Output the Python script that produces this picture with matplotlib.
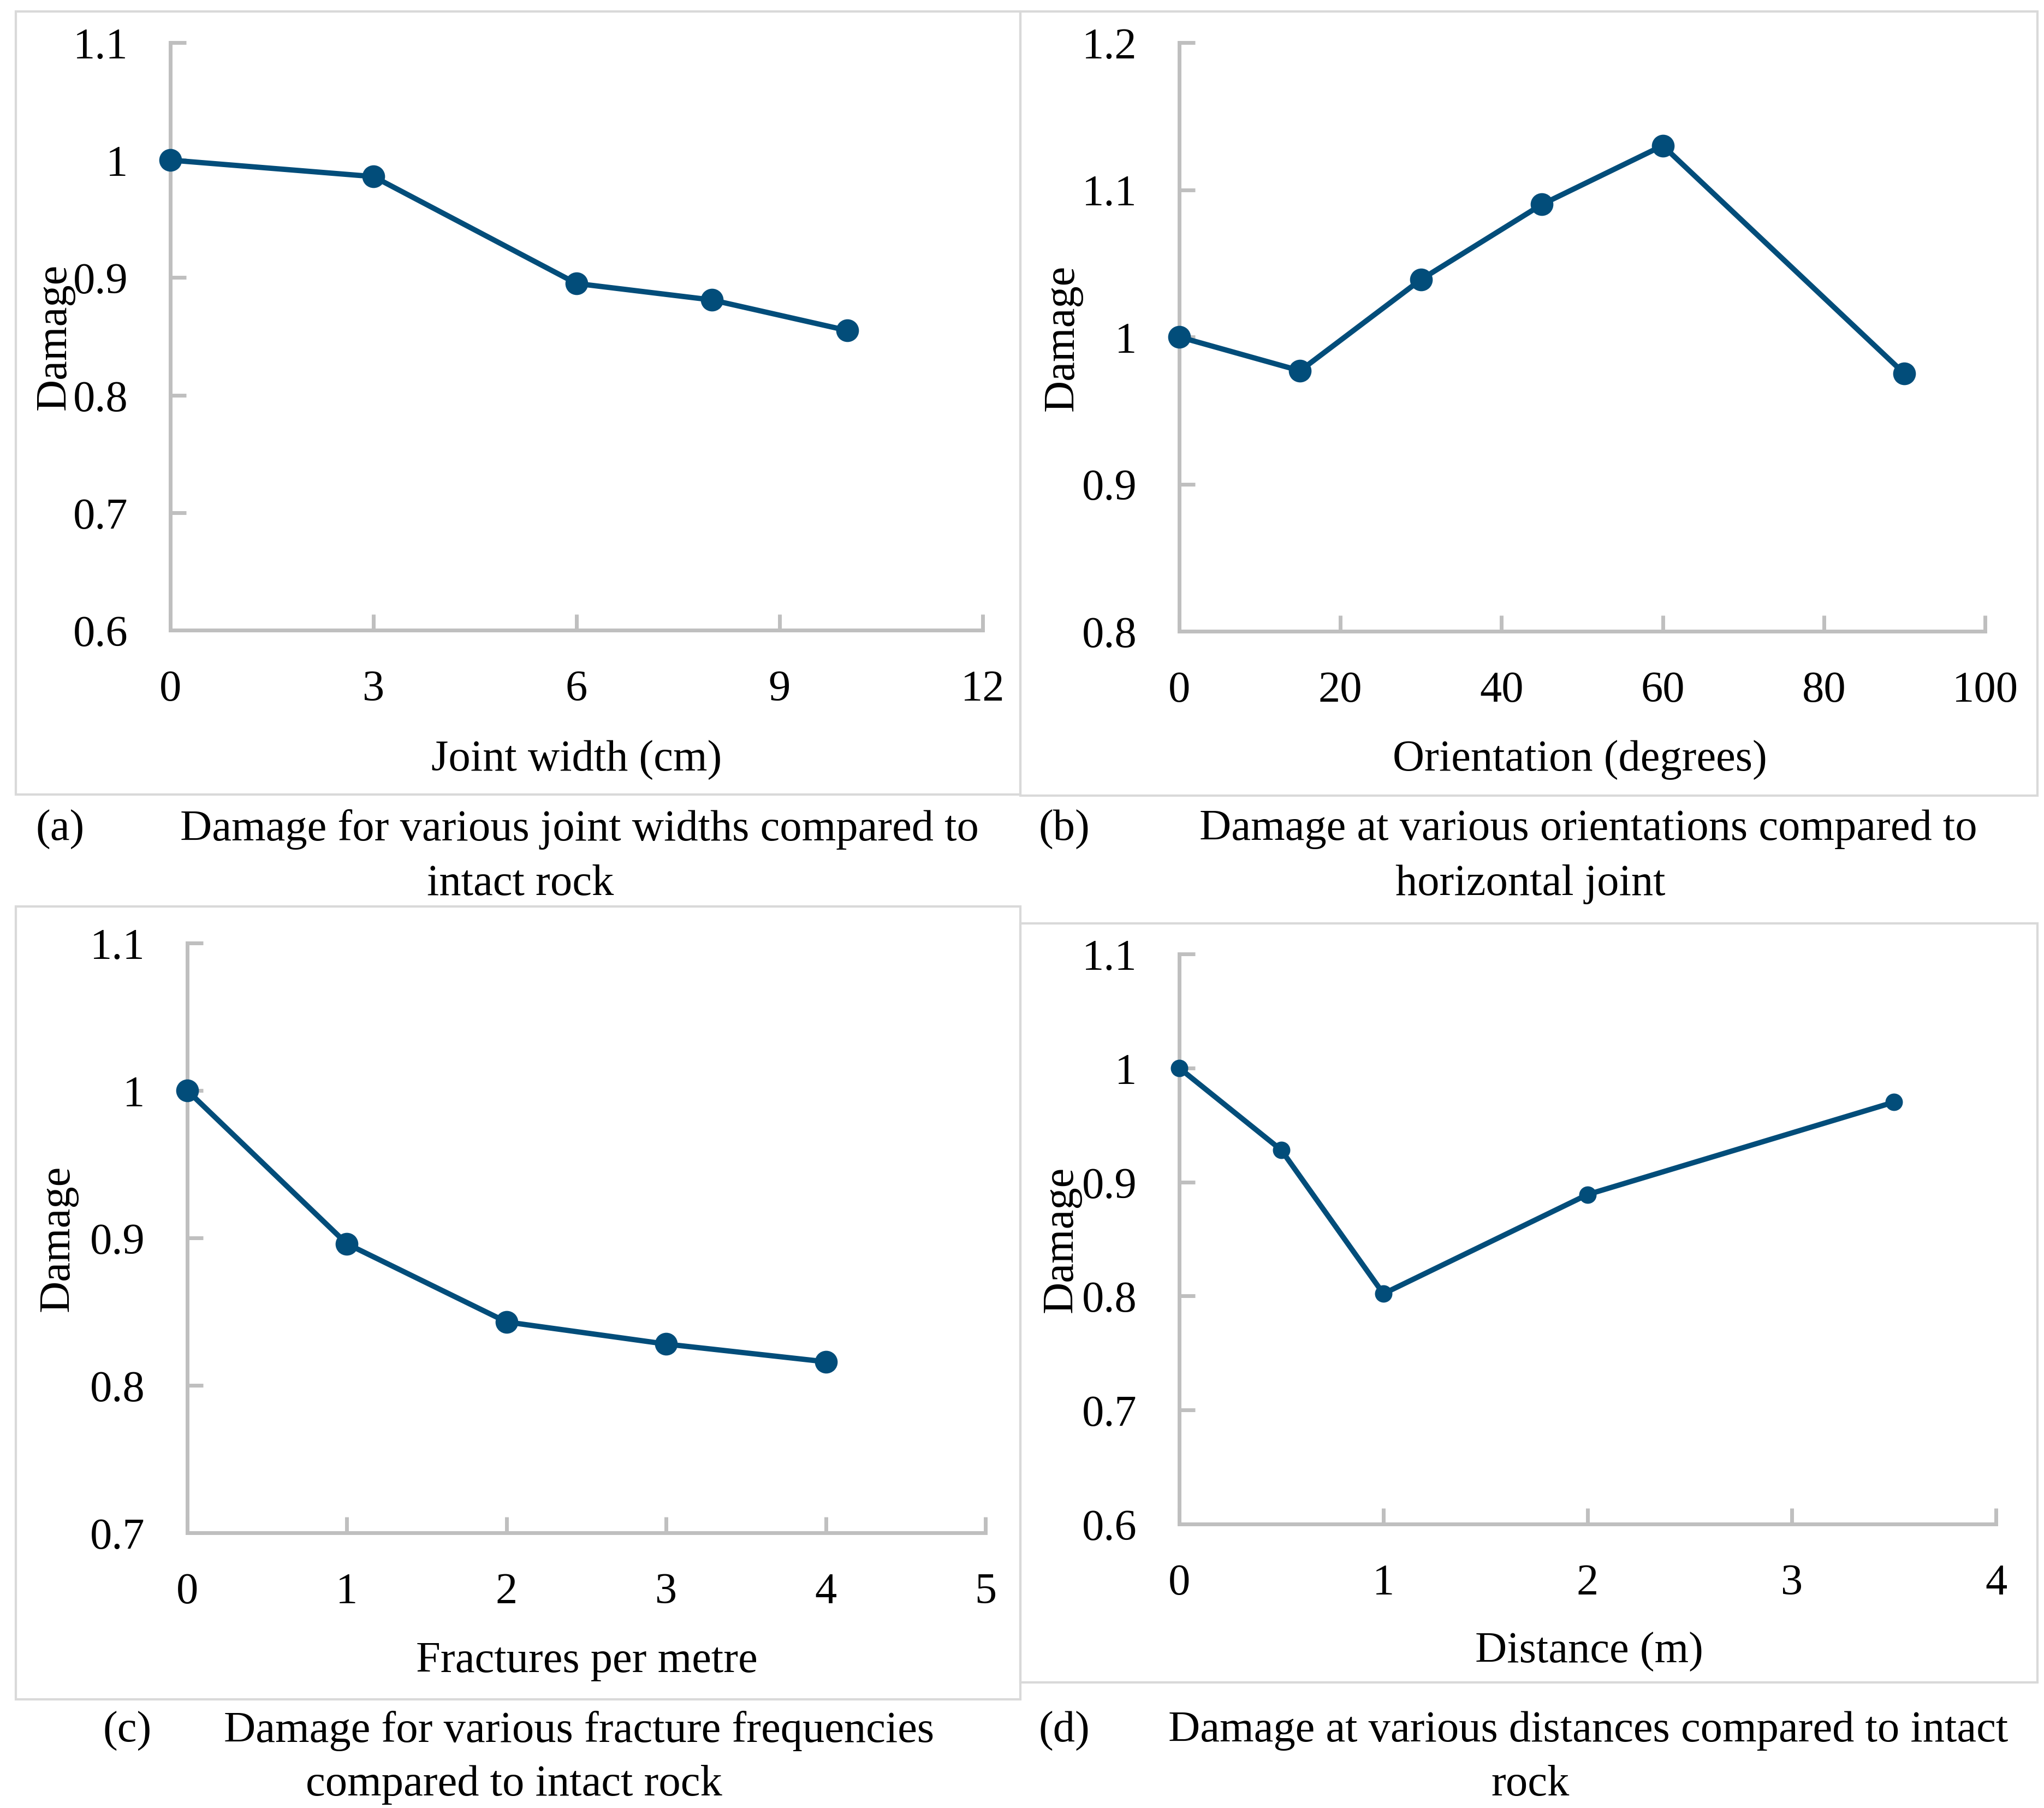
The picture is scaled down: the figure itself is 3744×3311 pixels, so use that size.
import matplotlib
matplotlib.use("Agg")
import matplotlib.pyplot as plt
from matplotlib.patches import Rectangle

plt.rcParams['font.family'] = ['Liberation Serif', 'DejaVu Serif']

W, H = 3744, 3312
DPI = 100

# data
width_x = [0, 3, 6, 8, 10]
width_y = [1.0, 0.986, 0.895, 0.881, 0.855]
orient_x = [0, 15, 30, 45, 60, 90]
orient_y = [1.0, 0.977, 1.039, 1.090, 1.130, 0.975]
fract_x = [0, 1, 2, 3, 4]
fract_y = [1.0, 0.896, 0.843, 0.828, 0.816]
dist_x = [0, 0.5, 1, 2, 3.5]
dist_y = [1.0, 0.928, 0.802, 0.889, 0.970]

xlabels = ["Joint width (cm)", "Orientation (degrees)", "Fractures per metre", "Distance (m)"]
tags = ["(a)", "(b)", "(c)", "(d)"]
cap1 = ["Damage for various joint widths compared to",
        "Damage at various orientations compared to",
        "Damage for various fracture frequencies",
        "Damage at various distances compared to intact"]
cap2 = ["intact rock", "horizontal joint", "compared to intact rock", "rock"]

LINE = '#024D7A'
AXC = '#BFBFBF'
BOX = '#D9D9D9'
FS = 58

fig = plt.figure(figsize=(W / DPI, H / DPI), dpi=DPI)


def fx(px):
    return px / W


def fy(py):
    return 1 - py / H


def box(x0, y0, x1, y1):
    fig.patches.append(Rectangle((fx(x0), fy(y1)), fx(x1) - fx(x0), (y1 - y0) / H,
                                 transform=fig.transFigure, fill=False,
                                 edgecolor=BOX, linewidth=3))


def panel(x0, x1, ytop, ybot, xs, ys, xlim, xt, ylim, yt, ms):
    ax = fig.add_axes([fx(x0), fy(ybot), (x1 - x0) / W, (ybot - ytop) / H])
    ax.plot(xs, ys, color=LINE, lw=7, marker='o', ms=ms, clip_on=False, zorder=5)
    ax.set_xlim(*xlim)
    ax.set_ylim(*ylim)
    ax.set_xticks(xt)
    ax.set_yticks(yt)
    ax.set_xticklabels([f"{v:g}" for v in xt])
    ax.set_yticklabels([f"{v:g}" for v in yt])
    for s in ['top', 'right']:
        ax.spines[s].set_visible(False)
    for s in ['left', 'bottom']:
        ax.spines[s].set_color(AXC)
        ax.spines[s].set_linewidth(5)
    ax.tick_params(axis='both', direction='in', length=21, width=5, color=AXC,
                   labelsize=FS, labelcolor='black')
    ax.tick_params(axis='x', pad=52)
    ax.tick_params(axis='y', pad=56)
    ax.patch.set_visible(False)
    return ax


box(29, 22, 1869, 1456)
box(1869, 22, 3732, 1458)
box(29, 1661, 1869, 3113)
box(1869, 1692, 3732, 3082)

panel(312, 1800, 79, 1155, width_x, width_y, (0, 12), [0, 3, 6, 9, 12],
      (0.6, 1.1), [0.6, 0.7, 0.8, 0.9, 1.0, 1.1], 29)
panel(2160, 3636, 79, 1157, orient_x, orient_y, (0, 100), [0, 20, 40, 60, 80, 100],
      (0.8, 1.2), [0.8, 0.9, 1.0, 1.1, 1.2], 29)
panel(343, 1805, 1728, 2808, fract_x, fract_y, (0, 5), [0, 1, 2, 3, 4, 5],
      (0.7, 1.1), [0.7, 0.8, 0.9, 1.0, 1.1], 29)
panel(2160, 3656, 1748, 2792, dist_x, dist_y, (0, 4), [0, 1, 2, 3, 4],
      (0.6, 1.1), [0.6, 0.7, 0.8, 0.9, 1.0, 1.1], 22)

ylab_pos = [(100, 617), (1946, 619), (106, 2268), (1944, 2270)]
xlab_pos = [(1056, 1392), (2894, 1392), (1075, 3043), (2911, 3025)]
tag_pos = [(110, 1519), (1949, 1519), (233, 3170), (1949, 3170)]
cap1_pos = [(1061, 1519), (2909, 1519), (1061, 3170), (2909, 3170)]
cap2_pos = [(953, 1620), (2803, 1620), (941, 3269), (2803, 3269)]

for i in range(4):
    fig.text(fx(ylab_pos[i][0]), fy(ylab_pos[i][1]), "Damage", rotation=90,
             ha='center', va='center', fontsize=FS)
    fig.text(fx(xlab_pos[i][0]), fy(xlab_pos[i][1]), xlabels[i],
             ha='center', va='center', fontsize=FS)
    fig.text(fx(tag_pos[i][0]), fy(tag_pos[i][1]), tags[i],
             ha='center', va='center', fontsize=FS)
    fig.text(fx(cap1_pos[i][0]), fy(cap1_pos[i][1]), cap1[i],
             ha='center', va='center', fontsize=FS)
    fig.text(fx(cap2_pos[i][0]), fy(cap2_pos[i][1]), cap2[i],
             ha='center', va='center', fontsize=FS)

fig.savefig("out.png", dpi=DPI)
